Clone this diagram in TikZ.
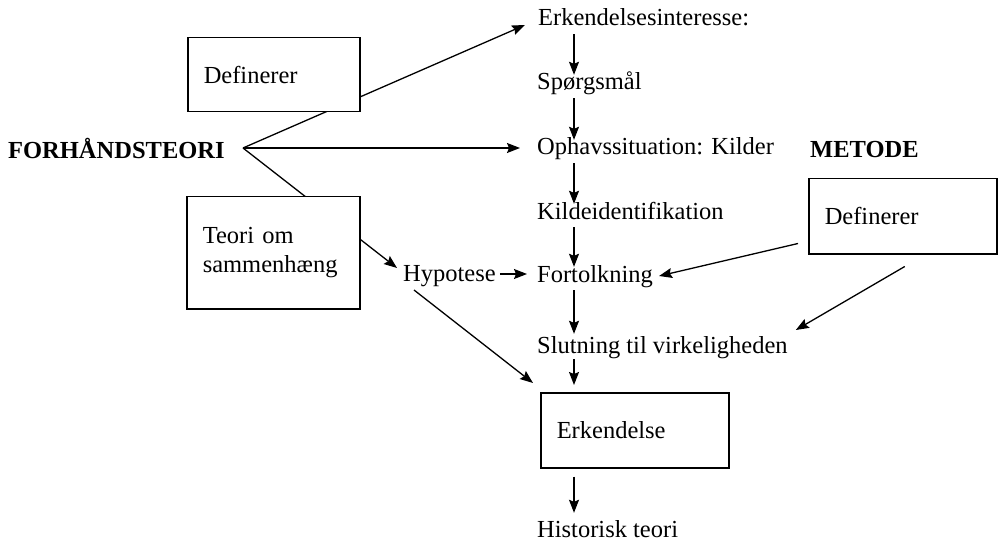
\documentclass[tikz,border=0pt]{standalone}
\usepackage{fontspec}
\setmainfont{Liberation Serif}
\usetikzlibrary{arrows.meta,calc,backgrounds}
\begin{document}
\begin{tikzpicture}[x=1pt,y=-1pt,
  txt/.style={inner sep=0pt, anchor=base west, text height=0.7em, text depth=0.22em, font=\fontsize{24.5}{29}\selectfont},
  boldtxt/.style={inner sep=0pt, anchor=base west, font=\fontsize{24.5}{29}\selectfont\bfseries},
  box/.style={draw, line width=1.5pt, fill=white, inner xsep=16pt, inner ysep=0pt, align=left, anchor=north west, font=\fontsize{24.5}{29}\selectfont},
  arr/.style={line width=1.3pt, -{Stealth[length=13pt,width=10pt,inset=2pt]}},
  varr/.style={arr, shorten <=6pt, shorten >=8pt}]
\useasboundingbox (0,0) rectangle (1000,545);
% left side
\node[boldtxt] (forh) at (8,159) {FORHÅNDSTEORI};
\node[box, text width=140pt, minimum height=74pt] (box1) at (187,37) {Definerer};
\node[box, text width=141pt, minimum height=112pt] (box2) at (186,196) {Teori om\\sammenhæng};
% column
\node[txt] (e1) at (538,26) {Erkendelsesinteresse:};
\node[txt] (e2) at (537,90) {Spørgsmål};
\node[txt] (e3) at (537,155) {Ophavssituation: Kilder};
\node[txt] (e4) at (537,219) {Kildeidentifikation};
\node[txt] (e5) at (537,282) {Fortolkning};
\node[txt] (e6) at (537,353) {Slutning til virkeligheden};
\node[box, text width=156pt, minimum height=75pt] (box4) at (540,392) {Erkendelse};
\node[txt] (e8) at (537,537) {Historisk teori};
\node[txt] (hyp) at (403,281) {Hypotese};
% right side
\node[boldtxt] (met) at (810,158) {METODE};
\node[box, text width=156pt, minimum height=75pt] (box3) at (808,178) {Definerer};
\coordinate (apex) at (243,148);
\coordinate (col) at (574,0);
\begin{scope}[on background layer]
\draw[arr] (apex) -- ($(e1.base west)+(-13,-1)$);
\draw[arr] (apex) -- ($(e3.base west)+(-17,-7)$);
\draw[arr] (apex) -- ($(hyp.base west)+(-6,-13)$);
\end{scope}
\draw[varr] (e1.south -| col) -- (e2.north -| col);
\draw[varr] (e2.south -| col) -- (e3.north -| col);
\draw[varr] (e3.south -| col) -- (e4.north -| col);
\draw[varr] (e4.south -| col) -- (e5.north -| col);
\draw[varr, shorten >=12pt] (e5.south -| col) -- (e6.north -| col);
\draw[arr, shorten <=4pt, shorten >=7pt] (e6.south -| col) -- (box4.north -| col);
\draw[arr, shorten <=8pt, shorten >=17pt] (box4.south -| col) -- (e8.north -| col);
\draw[arr] ($(hyp.base east)+(4,-7)$) -- ($(e5.base west)+(-10,-8)$);
\draw[arr] ($(hyp.base west)+(11,9)$) -- ($(box4.north west)+(-7,-9)$);
\draw[arr] ($(box3.south west)+(-10,-11)$) -- ($(e5.base east)+(6,-6)$);
\draw[arr] ($(box3.south)+(2,12)$) -- ($(e6.base east)+(8,-23)$);
\end{tikzpicture}
\end{document}
